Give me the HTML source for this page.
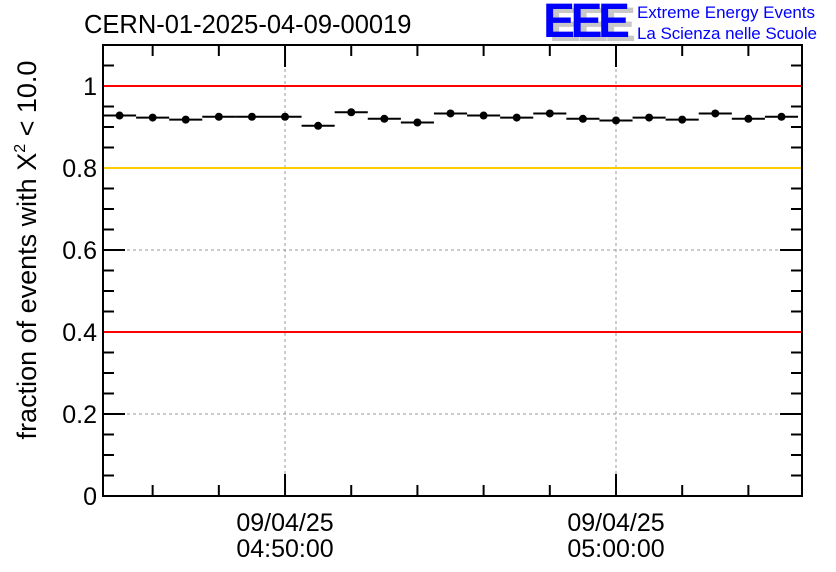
<!DOCTYPE html>
<html><head><meta charset="utf-8"><style>
body{margin:0;background:#fff;}
svg{display:block;font-family:"Liberation Sans",sans-serif;}
</style></head><body>
<svg id="c" width="836" height="572">
<text x="84" y="33" font-size="25.5" fill="#000">CERN-01-2025-04-09-00019</text>
<g>
<text x="549" y="41" font-size="48" fill="#c8c8c8" font-weight="bold" letter-spacing="-3" textLength="84">EEE</text>
<text x="543" y="37" font-size="48" fill="#0000ff" font-weight="bold" letter-spacing="-3" textLength="84">EEE</text>
<text x="637" y="18" font-size="17" fill="#0000ff" textLength="178">Extreme Energy Events</text>
<text x="637" y="39" font-size="17" fill="#0000ff" textLength="180">La Scienza nelle Scuole</text>
</g>
<text transform="translate(36,250) rotate(-90)" text-anchor="middle" font-size="27" fill="#000">fraction of events with X<tspan font-size="16" dy="-11">2</tspan><tspan dy="11"> &lt; 10.0</tspan></text>
<g id="grid"></g><g id="marks"></g><g id="axes"></g><g id="refs"></g>
</svg>
<script>
const values=[0.928,0.923,0.918,0.925,0.925,0.925,0.903,0.936,0.920,0.911,0.933,0.928,0.923,0.933,0.920,0.916,0.923,0.918,0.933,0.920,0.925];
const yTicks=[0,0.2,0.4,0.6,0.8,1];
const yTickLabels=["0","0.2","0.4","0.6","0.8","1"];
const xTickMinutes=[10,20];
const xTickLabels=[["09/04/25","04:50:00"],["09/04/25","05:00:00"]];
const refLines=[1,0.8,0.4];
const refColors=["#ff0000","#ffcc00","#ff0000"];
const X0=103,X1=802,Y0=496,YT=45,ymax=1.1,nMin=21.12;
const sx=m=>X0+m*(X1-X0)/nMin;
const sy=v=>Y0-v/ymax*(Y0-YT);
const NS="http://www.w3.org/2000/svg";
function mk(parent,tag,attrs){const e=document.createElementNS(NS,tag);for(const k in attrs)e.setAttribute(k,attrs[k]);document.getElementById(parent).appendChild(e);return e;}
yTicks.forEach(v=>{if(v>0&&v<1.05){const l=mk('grid','line',{x1:X0,x2:X1,y1:sy(v),y2:sy(v),stroke:'#999','stroke-dasharray':'3,3'});

}});
xTickMinutes.forEach(m=>{const x=sx(m-4.5);const l=mk('grid','line',{x1:x,x2:x,y1:YT,y2:Y0,stroke:'#999','stroke-dasharray':'3,3'});

});
refLines.forEach((v,i)=>{const l=mk('refs','line',{x1:X0+1,x2:X1-1,y1:sy(v),y2:sy(v),stroke:refColors[i],'stroke-width':2});

});
values.forEach((v,i)=>{const y=sy(v);
const l=mk('marks','line',{x1:sx(i),x2:sx(i+1),y1:y,y2:y,stroke:'#000','stroke-width':2});


const c=mk('marks','circle',{cx:sx(i+0.5),cy:y,r:4,fill:'#000'});

});
const f=mk('axes','rect',{x:X0,y:YT,width:X1-X0,height:Y0-YT,fill:'none',stroke:'#000','stroke-width':2});


for(let k=0;k<=21;k++){const v=k*0.05;const y=sy(v);const major=k%4==0;const len=major?22:11;
mk('axes','line',{x1:X0,x2:X0+len,y1:y,y2:y,stroke:'#000','stroke-width':2});
mk('axes','line',{x1:X1,x2:X1-len,y1:y,y2:y,stroke:'#000','stroke-width':2});}
yTicks.forEach((v,i)=>{const t=mk('axes','text',{x:X0-6,y:sy(v)+9,'text-anchor':'end','font-size':25});t.textContent=yTickLabels[i];

});
for(let m=-4;m<=22;m+=2){const x=sx(m-4.5+10);if(x<X0||x>X1)continue;const major=(m%10==0);const len=major?22:11;
mk('axes','line',{x1:x,x2:x,y1:Y0,y2:Y0-len,stroke:'#000','stroke-width':2});
mk('axes','line',{x1:x,x2:x,y1:YT,y2:YT+len,stroke:'#000','stroke-width':2});}
xTickMinutes.forEach((m,i)=>{const x=sx(m-4.5);xTickLabels[i].forEach((s,j)=>{const t=mk('axes','text',{x:x,y:531+j*26,'text-anchor':'middle','font-size':25});t.textContent=s;

});});
</script>
</body></html>
